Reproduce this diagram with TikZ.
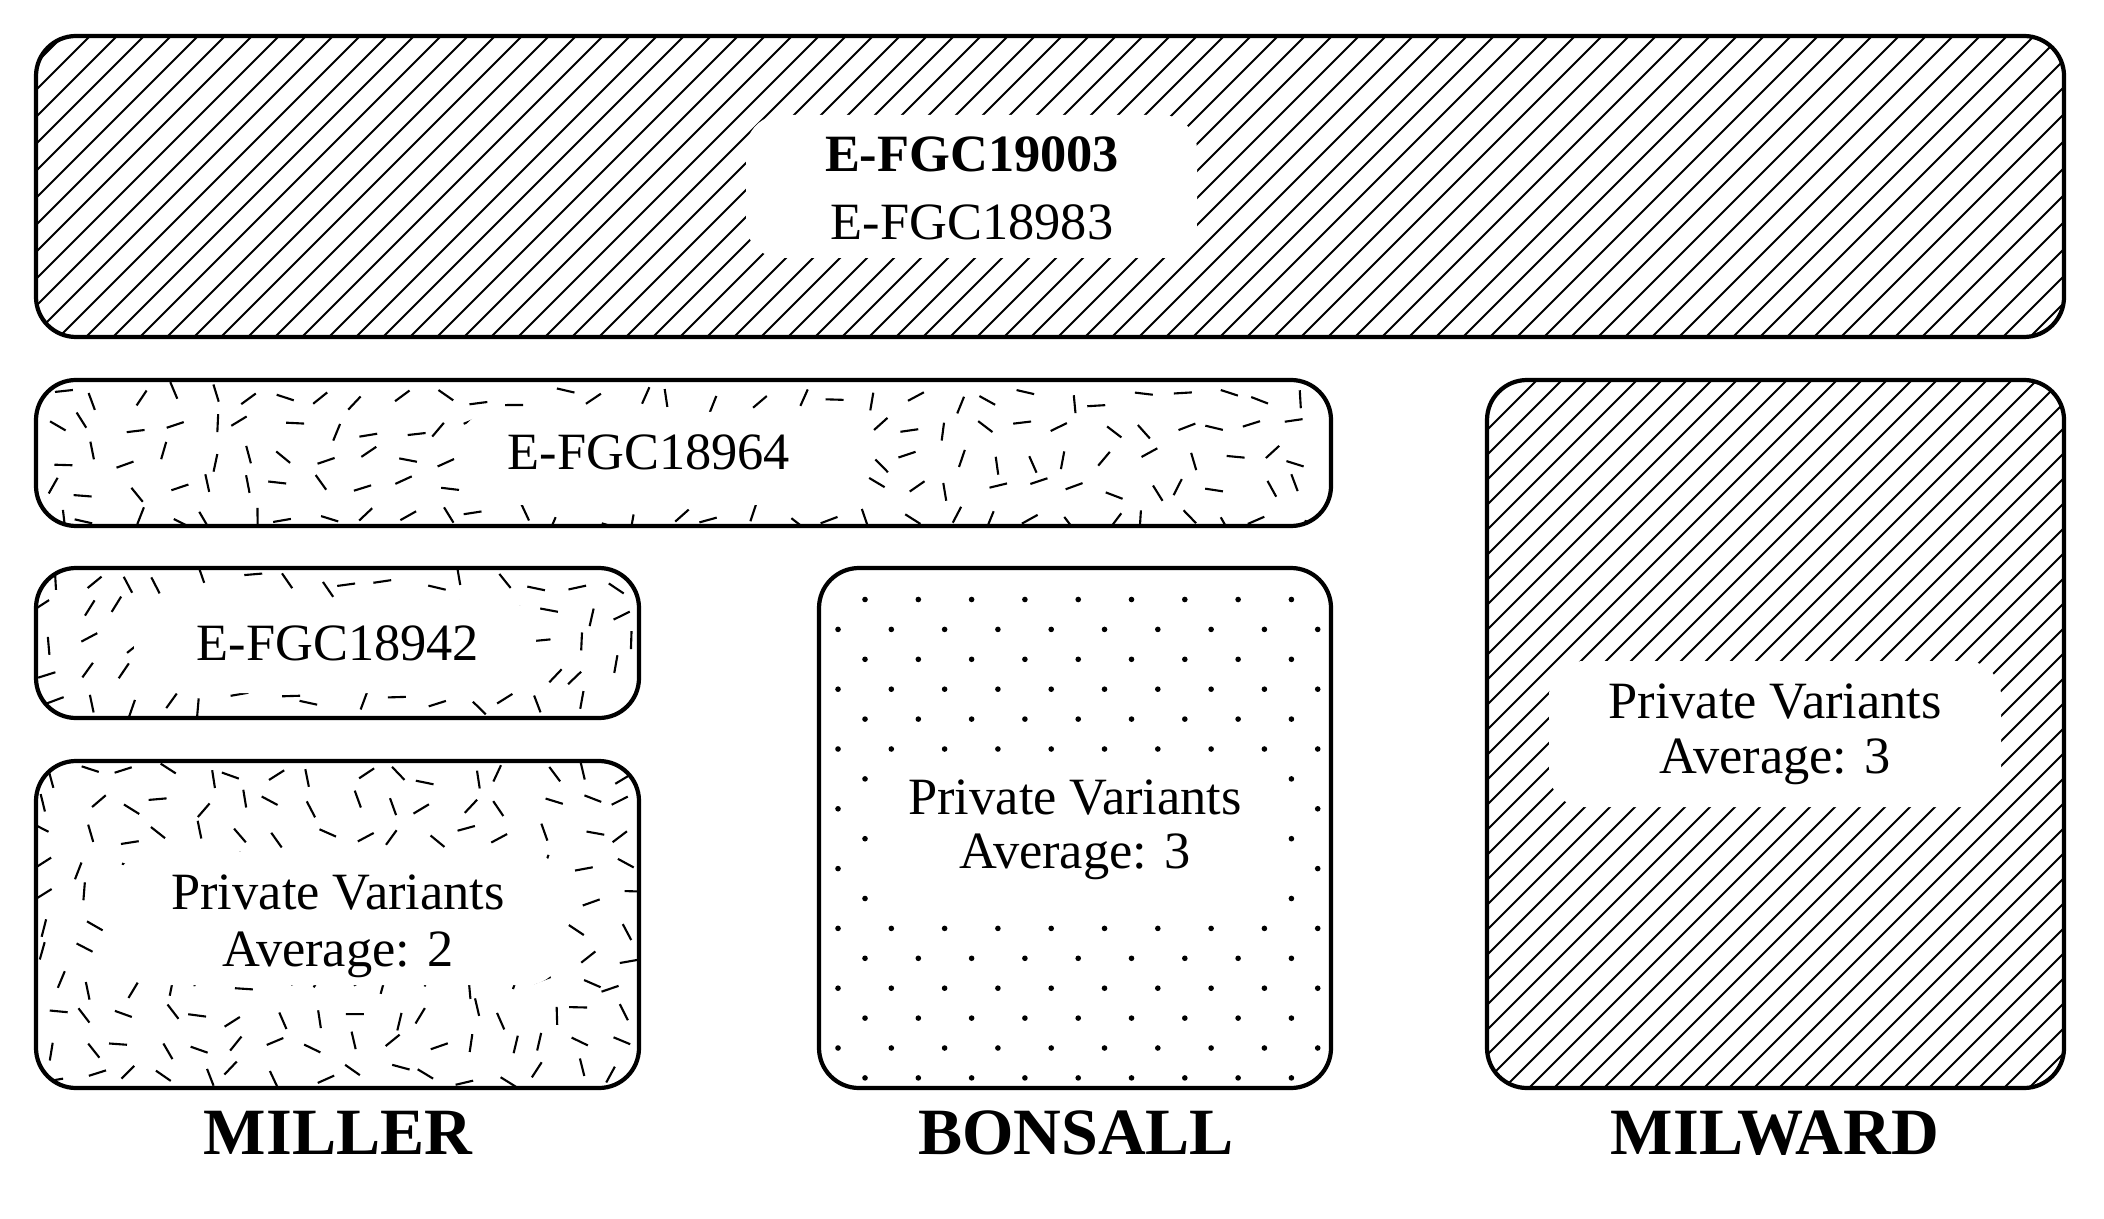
\documentclass[tikz,border=0pt]{standalone}
\usepackage{fontspec}
\setmainfont{Liberation Serif}
\begin{document}
\begin{tikzpicture}[x=0.01cm,y=-0.01cm,
  box/.style={draw=black,line width=1.2pt,rounded corners=0.4cm},
  boxclip/.style={rounded corners=0.4cm},
  hatchline/.style={line width=0.55pt},
  dashtex/.style={line width=0.6pt},
  halo/.style={fill=white,draw=none,rounded corners=0.35cm},
  txt/.style={anchor=base,inner sep=0pt,font=\fontsize{14.9pt}{17pt}\selectfont},
  lbl/.style={anchor=base,inner sep=0pt,font=\fontsize{18.8pt}{22pt}\selectfont\bfseries}]
\useasboundingbox (0,0) rectangle (2104,1219);

% ---------- top box (hatched) ----------
\begin{scope}
  \clip[boxclip] (36,36) rectangle (2064,337);
  \foreach \k in {-265,-238,...,2070} \draw[hatchline] (\k,337) -- ++(301,-301);
\end{scope}
\fill[halo] (746,115) rectangle (1197,258);
\node[txt] (t19003) at (972,172) {\textbf{E-FGC19003}};
\node[txt] (t18983) at (972,240) {E-FGC18983};
\draw[box] (36,36) rectangle (2064,337);

% ---------- Milward box (hatched) ----------
\begin{scope}
  \clip[boxclip] (1487,380) rectangle (2064,1088);
  \foreach \k in {779,804,...,2070} \draw[hatchline] (\k,1088) -- ++(708,-708);
\end{scope}
\fill[halo] (1549,661) rectangle (2001,807);
\node[txt] (mwa) at (1775,718) {Private Variants};
\node[txt] (mwb) at (1775,773) {Average: 3};
\draw[box] (1487,380) rectangle (2064,1088);

% ---------- Bonsall box (dots) ----------
\begin{scope}
  \clip[boxclip] (819,568) rectangle (1331,1088);
  \foreach \r in {0,2,...,16} \foreach \k in {0,...,8}
    \fill ({865+53.3*\k},{599.5+29.9*\r}) circle[radius=0.028cm];
  \foreach \r in {1,3,...,15} \foreach \k in {0,...,9}
    \fill ({838+53.3*\k},{599.5+29.9*\r}) circle[radius=0.028cm];
\end{scope}
\fill[halo] (868,762) rectangle (1288,912);
\node[txt] (bsa) at (1075,814) {Private Variants};
\node[txt] (bsb) at (1075,868) {Average: 3};
\draw[box] (819,568) rectangle (1331,1088);

% ---------- random dash texture ----------
\pgfmathsetseed{4711}
\begin{scope}
  \clip[boxclip] (36,380) rectangle (1331,526);
  \foreach \i in {0,...,32} \foreach \j in {0,...,4} {
    \pgfmathsetmacro\px{54+39*\i+rand*12}
    \pgfmathsetmacro\py{398+30*\j+rand*8}
    \pgfmathsetmacro\pa{rnd*180}
    \draw[dashtex] (\px,\py) ++(\pa+180:9) -- ++(\pa:18);
  }
\end{scope}
\fill[halo] (458,412) rectangle (866,505);
\node[txt] (t18964) at (649,470) {E-FGC18964};
\draw[box] (36,380) rectangle (1331,526);

\begin{scope}
  \clip[boxclip] (36,568) rectangle (639,718);
  \foreach \i in {0,...,15} \foreach \j in {0,...,4} {
    \pgfmathsetmacro\px{52+38*\i+rand*12}
    \pgfmathsetmacro\py{582+30*\j+rand*8}
    \pgfmathsetmacro\pa{rnd*180}
    \draw[dashtex] (\px,\py) ++(\pa+180:9) -- ++(\pa:18);
  }
\end{scope}
\fill[halo] (134,600) rectangle (536,693);
\node[txt] (t18942) at (338,660) {E-FGC18942};
\draw[box] (36,568) rectangle (639,718);

\begin{scope}
  \clip[boxclip] (36,761) rectangle (639,1088);
  \foreach \i in {0,...,15} \foreach \j in {0,...,10} {
    \pgfmathsetmacro\px{52+38*\i+rand*12}
    \pgfmathsetmacro\py{775+30*\j+rand*8}
    \pgfmathsetmacro\pa{rnd*180}
    \draw[dashtex] (\px,\py) ++(\pa+180:9) -- ++(\pa:18);
  }
\end{scope}
\fill[halo] (116,852) rectangle (562,985);
\node[txt] (mla) at (338,909) {Private Variants};
\node[txt] (mlb) at (338,966) {Average: 2};
\draw[box] (36,761) rectangle (639,1088);

% ---------- labels ----------
\node[lbl] (miller) at (338,1154) {MILLER};
\node[lbl] (bonsall) at (1076,1154) {BONSALL};
\node[lbl] (milward) at (1775,1154) {MILWARD};
\end{tikzpicture}
\end{document}
